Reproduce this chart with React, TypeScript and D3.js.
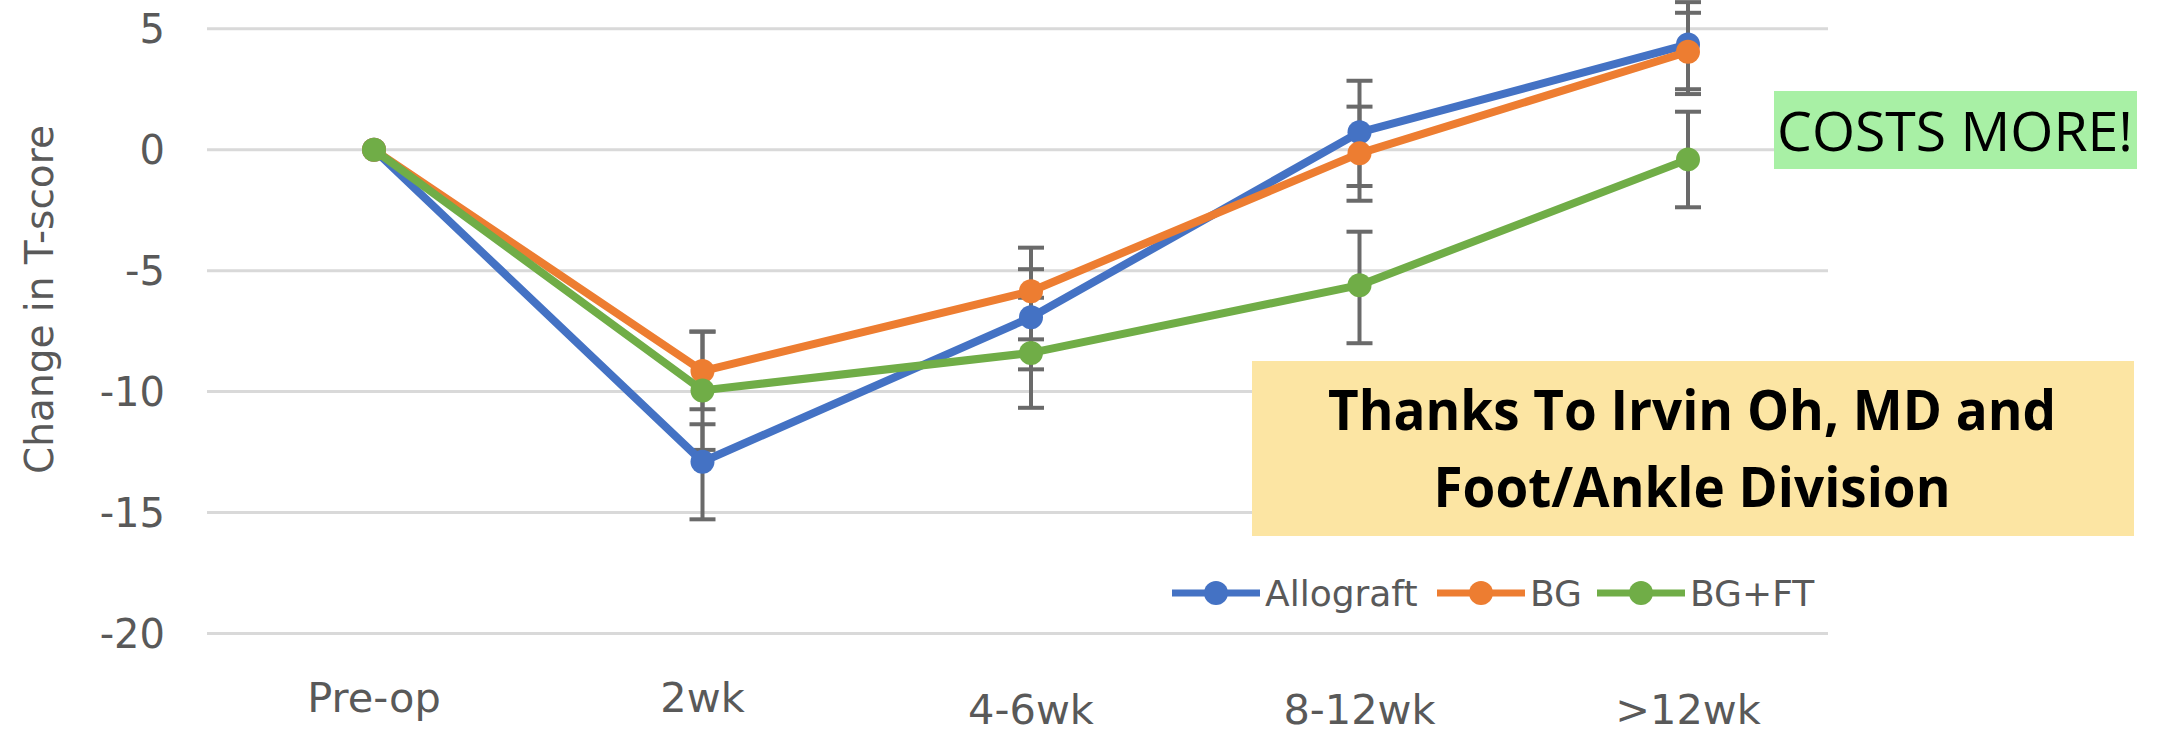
import React from "react";
import * as d3 from "d3";

// ---- data ----
const categories = ["Pre-op", "2wk", "4-6wk", "8-12wk", ">12wk"];
const seriesNames = ["Allograft", "BG", "BG+FT"];
const allograft = [0, -12.9, -6.93, 0.72, 4.35];
const bg = [0, -9.15, -5.85, -0.15, 4.05];
const bgft = [0, -9.95, -8.4, -5.6, -0.4];
const allograftErrPlus = [0, 1.55, 1.99, 2.13, 1.75];
const allograftErrMinus = [0, 2.38, 2.15, 2.22, 2.05];
const bgErrPlus = [0, 1.63, 1.8, 1.93, 1.61];
const bgErrMinus = [0, 1.58, 1.99, 1.96, 1.55];
const bgftErrPlus = [0, 2.43, 2.28, 2.21, 1.97];
const bgftErrMinus = [0, 2.46, 2.27, 2.4, 1.98];
const yTicks = [5, 0, -5, -10, -15, -20];
const yTitle = "Change in T-score";
const note1 = "COSTS MORE!";
const note2Lines = ["Thanks To Irvin Oh, MD and", "Foot/Ankle Division"];

const colors = ["#4472C4", "#ED7D31", "#70AD47"];

export default function App() {
  const W = 2166;
  const H = 729;
  const gridLeft = 207;
  const gridRight = 1828;
  const x = d3.scalePoint<string>().domain(categories).range([374, 1688]);
  const y = d3.scaleLinear().domain([-20, 5]).range([633.5, 28.75]);

  const values = [allograft, bg, bgft];
  const errP = [allograftErrPlus, bgErrPlus, bgftErrPlus];
  const errM = [allograftErrMinus, bgErrMinus, bgftErrMinus];

  const line = d3
    .line<number>()
    .x((_, i) => x(categories[i]) as number)
    .y((d) => y(d));

  const font = "'DejaVu Sans', sans-serif";
  const textColor = "#595959";
  const errColor = "#6a6a6a";
  const capHalf = 13;
  const markerR = 12;

  // legend layout
  const legendY = 593;
  const legendStarts = [1172, 1437, 1597];
  const legendLineLen = 88;

  return (
    <svg
      width={W}
      height={H}
      style={{ position: "absolute", left: 0, top: 0, background: "#fff" }}
    >
      <rect x={0} y={0} width={W} height={H} fill="#fff" />
      {/* gridlines */}
      {yTicks.map((t) => (
        <line
          key={"g" + t}
          x1={gridLeft}
          x2={gridRight}
          y1={y(t)}
          y2={y(t)}
          stroke="#d9d9d9"
          strokeWidth={3}
        />
      ))}
      {/* y tick labels */}
      {yTicks.map((t) => (
        <text
          key={"t" + t}
          x={165}
          y={y(t) + 14.5}
          textAnchor="end"
          fontFamily={font}
          fontSize={40}
          fill={textColor}
        >
          {String(t)}
        </text>
      ))}
      {/* y title */}
      <text
        transform={`translate(53,299.5) rotate(-90)`}
        textAnchor="middle"
        fontFamily={font}
        fontSize={39}
        fill={textColor}
      >
        {yTitle}
      </text>
      {/* x labels */}
      {categories.map((c, i) => (
        <text
          key={"x" + c}
          x={x(c)}
          y={i >= 2 ? 724 : 712}
          textAnchor="middle"
          fontFamily={font}
          fontSize={41.5}
          fill={textColor}
        >
          {c}
        </text>
      ))}
      {/* annotation boxes */}
      <rect x={1774} y={91} width={363} height={78} fill="#a8f0a5" />
      <text
        x={1777}
        y={151}
        fontFamily="'Open Sans', sans-serif"
        fontSize={55}
        fill="#000"
        textLength={356}
        lengthAdjust="spacingAndGlyphs"
      >
        {note1}
      </text>
      <rect x={1252} y={361} width={882} height={175} fill="#fce5a3" />
      {note2Lines.map((s, i) => (
        <text
          key={"n" + i}
          x={1692}
          y={i === 0 ? 430 : 507}
          textAnchor="middle"
          fontFamily="'Open Sans', sans-serif"
          fontWeight="bold"
          fontSize={56}
          fill="#000"
          textLength={i === 0 ? 728 : 517}
          lengthAdjust="spacingAndGlyphs"
        >
          {s}
        </text>
      ))}
      {/* error bars */}
      {values.map((vals, si) =>
        vals.map((v, i) => {
          if (errP[si][i] === 0 && errM[si][i] === 0) return null;
          const cx = x(categories[i]) as number;
          const yt = y(v + errP[si][i]);
          const yb = y(v - errM[si][i]);
          return (
            <g key={`e${si}-${i}`} stroke={errColor} strokeWidth={4}>
              <line x1={cx} x2={cx} y1={yt} y2={yb} />
              <line x1={cx - capHalf} x2={cx + capHalf} y1={yt} y2={yt} />
              <line x1={cx - capHalf} x2={cx + capHalf} y1={yb} y2={yb} />
            </g>
          );
        })
      )}
      {/* lines and markers */}
      {values.map((vals, si) => (
        <g key={"s" + si}>
          <path
            d={line(vals) || ""}
            fill="none"
            stroke={colors[si]}
            strokeWidth={8}
            strokeLinejoin="round"
          />
          {vals.map((v, i) => (
            <circle
              key={i}
              cx={x(categories[i])}
              cy={y(v)}
              r={markerR}
              fill={colors[si]}
            />
          ))}
        </g>
      ))}
      {/* legend */}
      {seriesNames.map((n, si) => (
        <g key={"l" + n}>
          <line
            x1={legendStarts[si]}
            x2={legendStarts[si] + legendLineLen}
            y1={legendY}
            y2={legendY}
            stroke={colors[si]}
            strokeWidth={7}
          />
          <circle
            cx={legendStarts[si] + legendLineLen / 2}
            cy={legendY}
            r={markerR}
            fill={colors[si]}
          />
          <text
            x={legendStarts[si] + legendLineLen + 5}
            y={606}
            fontFamily={font}
            fontSize={36}
            fill={textColor}
          >
            {n}
          </text>
        </g>
      ))}
    </svg>
  );
}
